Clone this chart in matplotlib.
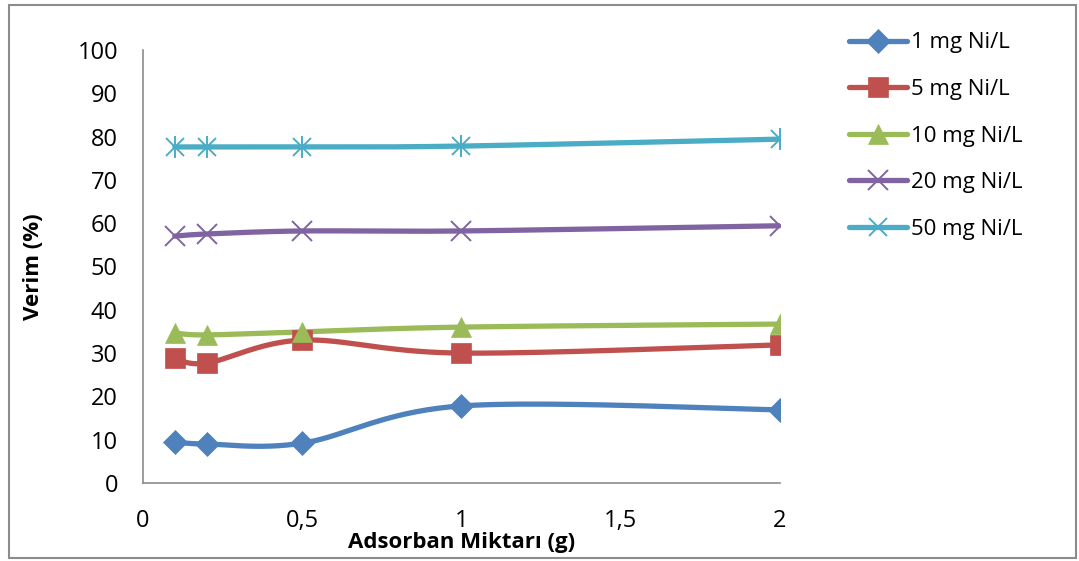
import numpy as np
import matplotlib
matplotlib.use("Agg")
import matplotlib.pyplot as plt
from matplotlib.lines import Line2D
from matplotlib.patches import Rectangle
from matplotlib.ticker import FuncFormatter

plt.rcParams["font.family"] = ["Open Sans", "DejaVu Sans"]

# data
adsorban = [0.1, 0.2, 0.5, 1.0, 2.0]
ni_1 = [9.5, 9.0, 9.2, 17.8, 16.9]
ni_5 = [28.9, 27.7, 33.0, 30.0, 31.9]
ni_10 = [34.6, 34.2, 34.9, 36.0, 36.7]
ni_20 = [57.0, 57.5, 58.2, 58.2, 59.4]
ni_50 = [77.6, 77.6, 77.6, 77.8, 79.4]
labels = ["1 mg Ni/L", "5 mg Ni/L", "10 mg Ni/L", "20 mg Ni/L", "50 mg Ni/L"]

colors = ["#4F81BD", "#C0504D", "#9BBB59", "#8064A2", "#4BACC6"]
markers = ["D", "s", "^", "x", "*"]
msizes = [12, 14, 14, 14, 15]


def smooth(x, y, n=40, t=0.5):
    # cardinal spline through the points, like Excel's smoothed line
    x = np.asarray(x, float)
    y = np.asarray(y, float)
    px = np.concatenate([[x[0]], x, [x[-1]]])
    py = np.concatenate([[y[0]], y, [y[-1]]])
    xs, ys = [], []
    s = np.linspace(0, 1, n)
    for i in range(1, len(px) - 2):
        p0, p1, p2, p3 = (np.array([px[j], py[j]]) for j in (i - 1, i, i + 1, i + 2))
        m1 = t * (p2 - p0)
        m2 = t * (p3 - p1)
        b1 = p1 + m1 / 3
        b2 = p2 - m2 / 3
        pts = (((1 - s) ** 3)[:, None] * p1 + (3 * (1 - s) ** 2 * s)[:, None] * b1
               + (3 * (1 - s) * s ** 2)[:, None] * b2 + (s ** 3)[:, None] * p2)
        xs.extend(pts[:, 0])
        ys.extend(pts[:, 1])
    return xs, ys


fig = plt.figure(figsize=(10.79, 5.61), dpi=100)
fig.patch.set_facecolor("white")
ax = fig.add_axes([0.1325, 0.139, 0.5904, 0.772])

series = [ni_1, ni_5, ni_10, ni_20, ni_50]
handles = []
for vals, c, m, ms, lab in zip(series, colors, markers, msizes, labels):
    sx, sy = smooth(adsorban, vals)
    ax.plot(sx, sy, color=c, lw=3.8, solid_capstyle="round", zorder=2)
    mew = 1.4 if m in ("x", "*") else 0.5
    if m == "*":
        # asterisk: x + vertical bar overlay
        ax.plot(adsorban, vals, ls="none", marker="x", ms=ms * 0.85, mec=c, mew=mew, zorder=3)
        ax.plot(adsorban, vals, ls="none", marker="|", ms=ms * 1.05, mec=c, mew=mew, zorder=3)
    else:
        ax.plot(adsorban, vals, ls="none", marker=m, ms=ms, color=c, mec=c, mew=mew, zorder=3)
    handles.append(Line2D([], [], color=c, lw=3.8, marker="x" if m == "*" else m,
                          ms=ms if m != "*" else ms * 0.85, mec=c, mew=mew, label=lab,
                          solid_capstyle="round"))

ax.set_xlim(0, 2)
ax.set_ylim(0, 100)
ax.set_xticks([0, 0.5, 1, 1.5, 2])
ax.set_yticks(np.arange(0, 101, 10))
ax.xaxis.set_major_formatter(FuncFormatter(lambda v, p: ("%g" % v).replace(".", ",")))
ax.tick_params(length=0, labelsize=17, colors="black")
ax.tick_params(axis="x", pad=19)
ax.tick_params(axis="y", pad=18)
for side in ("top", "right"):
    ax.spines[side].set_visible(False)
for side in ("left", "bottom"):
    ax.spines[side].set_color("#8c8c8c")
    ax.spines[side].set_linewidth(1.2)

ax.set_xlabel("Adsorban Miktarı (g)", fontsize=16, fontweight="bold", labelpad=-1)
ax.set_ylabel("Verim (%)", fontsize=16, fontweight="bold", labelpad=24)

leg = fig.legend(handles=handles, loc="upper left", bbox_to_anchor=(0.779, 0.958),
                 frameon=False, fontsize=16, handlelength=2.6, handletextpad=0.15,
                 labelspacing=1.15, borderaxespad=0)

fig.patches.append(Rectangle((0.008, 0.006), 0.989, 0.985, transform=fig.transFigure,
                             fill=False, ec="#8c8c8c", lw=1.5))

fig.savefig("out.png", dpi=100, facecolor="white")
